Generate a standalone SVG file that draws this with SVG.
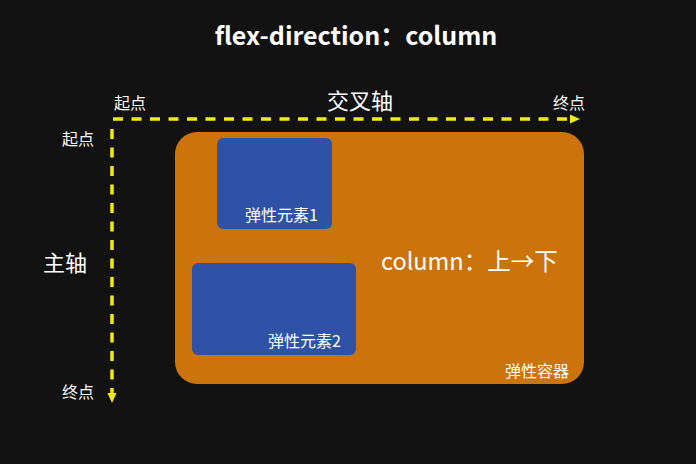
<svg xmlns="http://www.w3.org/2000/svg" width="696" height="464" viewBox="0 0 696 464">
<defs>
<style>
.t{fill:#ffffff;font-family:"Noto Sans CJK SC","Noto Sans",sans-serif}
.axis{stroke:#f2ea18;stroke-width:3.5;stroke-dasharray:10 8.5;fill:none}
.item{fill:#2e53a6}
</style>
<marker id="ah" viewBox="0 0 10 10" refX="0" refY="5" markerWidth="10" markerHeight="10" markerUnits="userSpaceOnUse" orient="auto">
<path d="M0,0.5 L10,5 L0,9.5 Z" fill="#f2ea18"/>
</marker>
</defs>
<rect width="696" height="464" fill="#121212"/>
<text class="t" x="356" y="45" font-size="25" font-weight="bold" text-anchor="middle">flex-direction：column</text>
<g id="container">
<rect x="175" y="132" width="409" height="252" rx="22" fill="#cc730c"/>
<text class="t" x="569" y="377" font-size="16" text-anchor="end">弹性容器</text>
<text class="t" x="381" y="270" font-size="23.5">column：上→下</text>
</g>
<g id="item1">
<rect class="item" x="217" y="138" width="115" height="91" rx="6"/>
<text class="t" x="318" y="221" font-size="16" text-anchor="end">弹性元素1</text>
</g>
<g id="item2">
<rect class="item" x="192" y="263" width="164" height="92" rx="6"/>
<text class="t" x="341" y="347" font-size="16" text-anchor="end">弹性元素2</text>
</g>
<g id="connectors">
<path class="axis" d="M113,119 H570" marker-end="url(#ah)"/>
<path class="axis" d="M112,129 V393" marker-end="url(#ah)"/>
</g>
<g id="labels">
<text class="t" x="114" y="109" font-size="16">起点</text>
<text class="t" x="360" y="109" font-size="22" text-anchor="middle">交叉轴</text>
<text class="t" x="553" y="109" font-size="16">终点</text>
<text class="t" x="62" y="145" font-size="16">起点</text>
<text class="t" x="43" y="271" font-size="22">主轴</text>
<text class="t" x="62" y="398" font-size="16">终点</text>
</g>
</svg>
